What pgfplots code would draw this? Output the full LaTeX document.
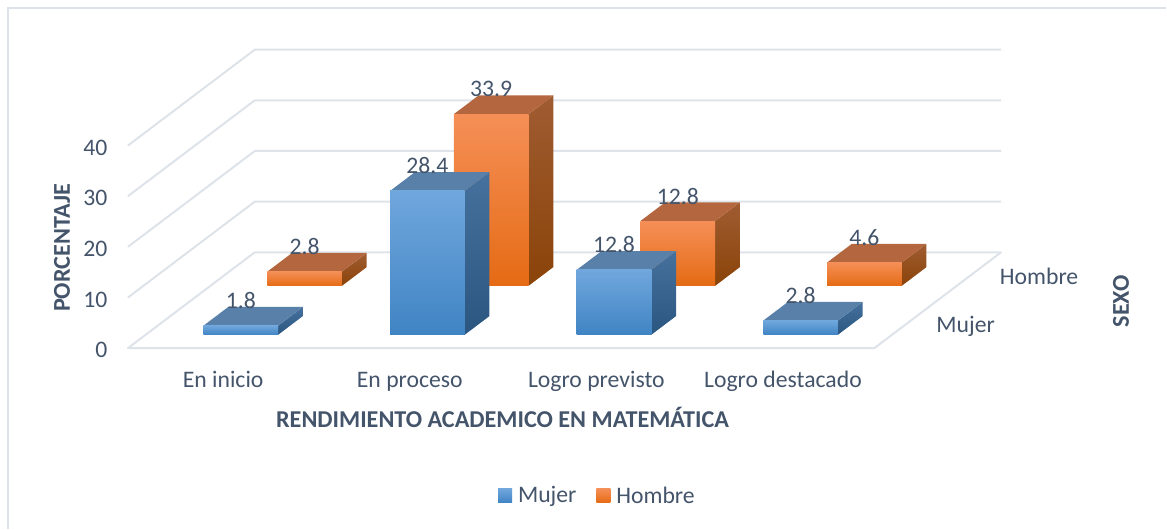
\documentclass[border=0pt]{standalone}
\usepackage{pgfplots}
\usepackage{fontspec}
\setmainfont{Carlito}
\pgfplotsset{compat=1.18}
\usetikzlibrary{calc}
\definecolor{txt}{HTML}{44546A}
\definecolor{gl}{HTML}{DEE3E9}
\definecolor{bT}{HTML}{70A7DD}\definecolor{bM}{HTML}{5399DC}\definecolor{bB}{HTML}{4084C4}
\definecolor{bsT}{HTML}{46719E}\definecolor{bsB}{HTML}{2A5680}\definecolor{btop}{HTML}{5880A9}
\definecolor{oT}{HTML}{F58F57}\definecolor{oM}{HTML}{F87C25}\definecolor{oB}{HTML}{E56B14}
\definecolor{osT}{HTML}{A05C32}\definecolor{osB}{HTML}{8A4308}\definecolor{otop}{HTML}{B4673F}
\newcommand{\fs}{\fontsize{23.7}{26}\selectfont}
\newcommand{\fb}{\fontsize{24.2}{26}\selectfont\bfseries}
\tikzset{
 blue front/.style={top color=bT,middle color=bM,bottom color=bB},
 blue side/.style={top color=bsT,bottom color=bsB},
 blue top/.style={fill=btop},
 orange front/.style={top color=oT,middle color=oM,bottom color=oB},
 orange side/.style={top color=osT,bottom color=osB},
 orange top/.style={fill=otop},
 gridl/.style={draw=gl,line width=2pt,line join=round}
}
% x0 x1 y0 y1 value colour
\newcommand{\barbox}[6]{%
 \addplot3[forget plot,mark=none,draw=none,#6 side] coordinates {(#2,#3,0) (#2,#4,0) (#2,#4,#5) (#2,#3,#5)} --cycle;
 \addplot3[forget plot,mark=none,draw=none,#6 top] coordinates {(#1,#3,#5) (#2,#3,#5) (#2,#4,#5) (#1,#4,#5)} --cycle;
 \addplot3[forget plot,mark=none,draw=none,#6 front] coordinates {(#1,#3,0) (#2,#3,0) (#2,#3,#5) (#1,#3,#5)} --cycle;
}
\begin{document}
\begin{tikzpicture}
\begin{axis}[
 x={(186.75pt,0pt)},y={(63.5pt,48pt)},z={(0pt,5.07pt)},
 xmin=0,xmax=4,ymin=0,ymax=2,zmin=0,zmax=40,
 clip=false,
 axis line style={draw=none},
 tick style={draw=none},
 major tick length=0pt,
 tick label style={font=\fs,text=txt},
 /pgf/number format/assume math mode=true,
 xtick={0.5,1.5,2.5,3.5},
 xticklabels={En inicio,En proceso,Logro previsto,Logro destacado},
 ytick={0.5,1.5},
 yticklabels={Mujer,Hombre},
 ztick={0,10,20,30,40},
 xticklabel pos=lower,
 x tick label style={anchor=base,xshift=2pt,yshift=-39pt},
 y tick label style={anchor=base west,xshift=27pt,yshift=-8.5pt},
 z tick label style={anchor=east,xshift=-17pt,yshift=-2pt},
 xlabel={RENDIMIENTO ACADEMICO EN MATEMÁTICA},
 ylabel={SEXO},
 zlabel={PORCENTAJE},
 every axis x label/.style={at={(axis cs:2,0,0)},anchor=center,xshift=1.5pt,yshift=-69.5pt,font=\fb,text=txt},
 every axis y label/.style={at={(axis cs:4,1,0)},anchor=center,rotate=90,xshift=-1pt,yshift=-183.5pt,font=\fb,text=txt},
 every axis z label/.style={at={(axis cs:0,0,20)},anchor=center,rotate=90,xshift=-1pt,yshift=66pt,font=\fb,text=txt},
 legend style={at={(axis cs:2.5,0,0)},anchor=center,xshift=3pt,yshift=-147.5pt,draw=none,fill=none,font=\fs,text=txt,legend columns=2,
   /tikz/every even column/.style={column sep=18pt},
   /tikz/every odd column/.style={column sep=4pt}},
 nodes near coords style={font=\fs,text=txt,anchor=center,yshift=25pt},
]
% walls and floor
\pgfplotsinvokeforeach{10,20,30,40}{
 \addplot3[forget plot,mark=none,gridl] coordinates {(0,0,#1) (0,2,#1) (4,2,#1)};
}
\addplot3[forget plot,mark=none,gridl] coordinates {(4,0,0) (4,2,0) (0,2,0) (0,0,0) (4,0,0)};
% Hombre
\barbox{0.305}{0.705}{1.30}{1.69}{2.8}{orange}
\barbox{1.305}{1.705}{1.30}{1.69}{33.9}{orange}
\barbox{2.305}{2.705}{1.30}{1.69}{12.8}{orange}
\barbox{3.305}{3.705}{1.30}{1.69}{4.6}{orange}
% Mujer
\barbox{0.31}{0.71}{0.28}{0.67}{1.8}{blue}
\barbox{1.31}{1.71}{0.28}{0.67}{28.4}{blue}
\barbox{2.31}{2.71}{0.28}{0.67}{12.8}{blue}
\barbox{3.31}{3.71}{0.28}{0.67}{2.8}{blue}
% data labels
\addplot3[forget plot,draw=none,mark=none,point meta=z,nodes near coords={\pgfmathprintnumber[fixed,fixed zerofill,precision=1]{\pgfplotspointmeta}}] coordinates {(0.505,1.30,2.8) (1.505,1.30,33.9) (2.505,1.30,12.8) (3.505,1.30,4.6)};
\addplot3[forget plot,draw=none,mark=none,point meta=z,nodes near coords={\pgfmathprintnumber[fixed,fixed zerofill,precision=1]{\pgfplotspointmeta}}] coordinates {(0.51,0.28,1.8) (1.51,0.28,28.4) (2.51,0.28,12.8) (3.51,0.28,2.8)};
\addlegendimage{legend image code/.code={\path[draw=none,top color=bT,middle color=bM,bottom color=bB] (0pt,-7pt) rectangle (14pt,7pt);}}
\addlegendentry{Mujer}
\addlegendimage{legend image code/.code={\path[draw=none,top color=oT,middle color=oM,bottom color=oB] (0pt,-7pt) rectangle (14pt,7pt);}}
\addlegendentry{Hombre}
\coordinate (O) at (axis cs:0,0,0);
\end{axis}
\pgfresetboundingbox
\draw[gl,line width=2pt] ($(O)+(1039pt,340.5pt)$) -- ($(O)+(-120pt,340.5pt)$) -- ($(O)+(-120pt,-180.5pt)$);
\path[use as bounding box] ($(O)+(-128pt,-180.5pt)$) rectangle ($(O)+(1039pt,348.5pt)$);
\end{tikzpicture}
\end{document}
